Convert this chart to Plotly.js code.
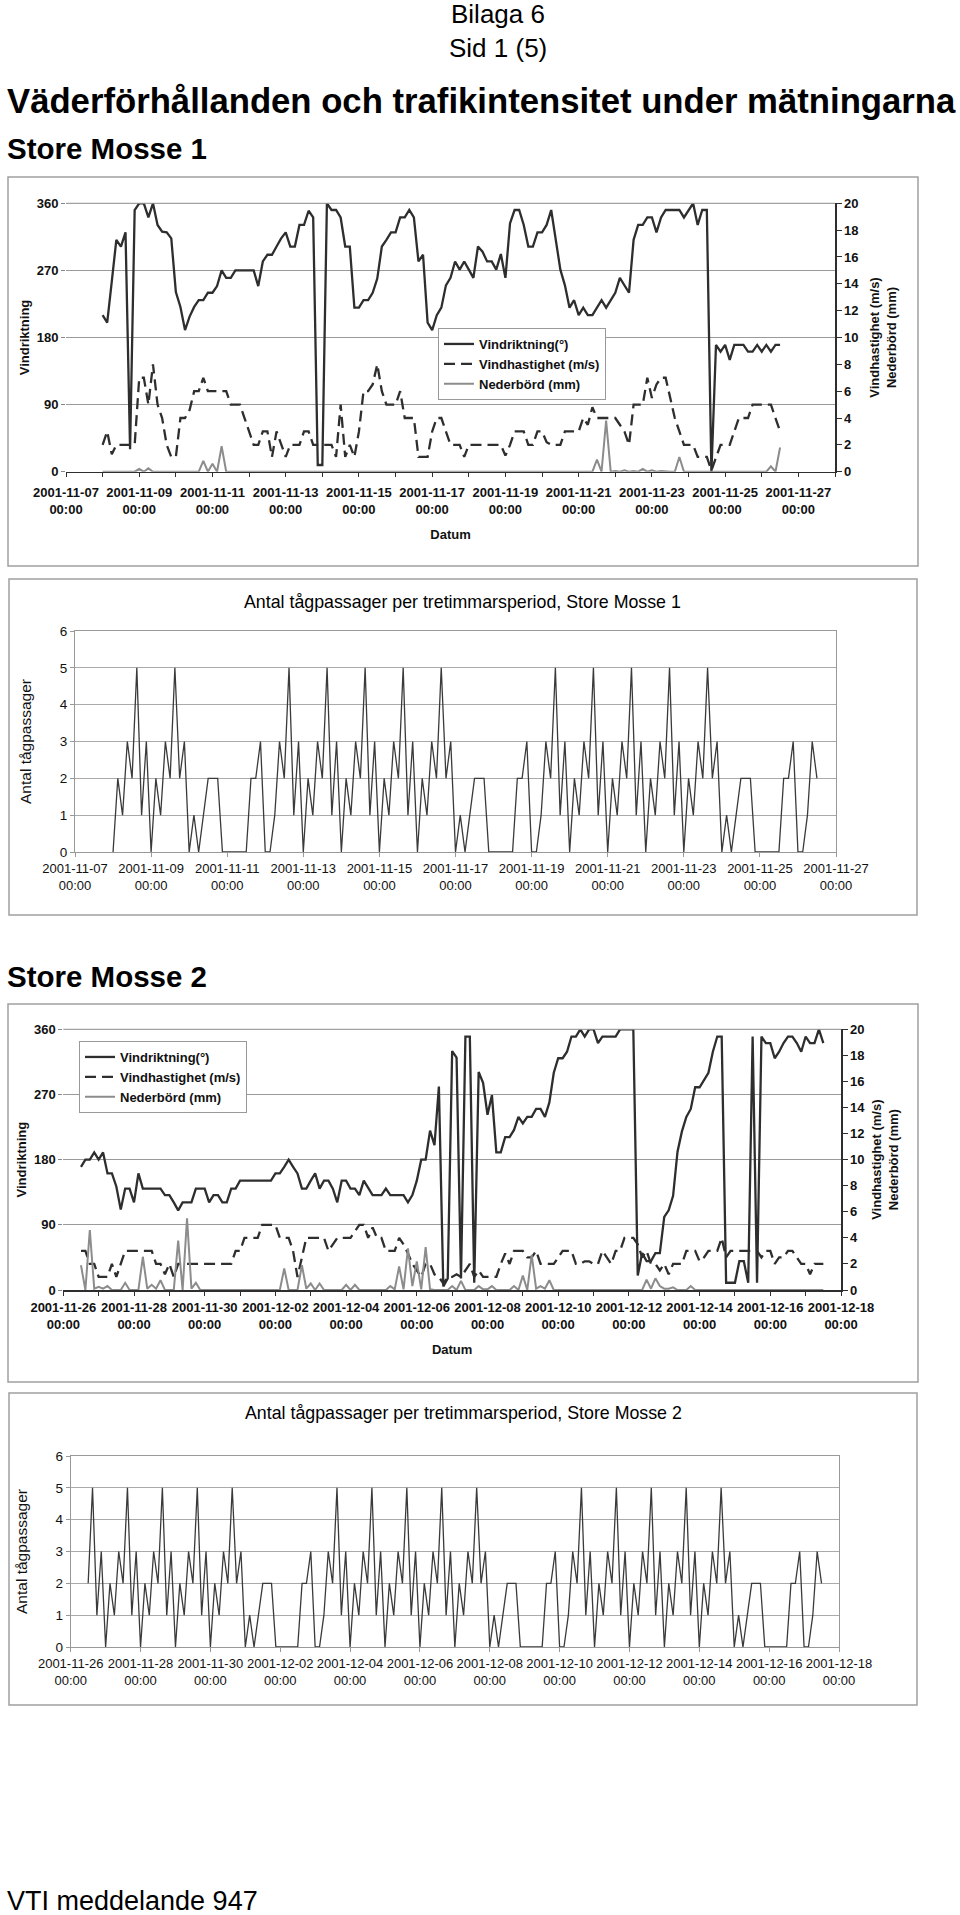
<!DOCTYPE html>
<html><head><meta charset="utf-8">
<script src="https://cdn.plot.ly/plotly-3.0.1.min.js"></script>
<style>html,body{margin:0;padding:0;background:#fff}#chart{width:960px;height:1915px}</style>
</head><body><div id="chart"></div>
<script>
// ---------------- DATA ----------------
// Store Mosse 1, 3-hourly from 2001-11-08 00:00
const start1 = '2001-11-08T00:00';
const vindriktning1 = [
210,200,255,311,302,321,30,351,360,360,
341,360,331,322,321,313,241,221,190,208,
221,230,230,240,240,249,270,260,260,270,
270,270,270,270,249,282,291,291,302,313,
321,302,302,331,331,350,341,9,9,360,
351,351,341,302,302,220,220,230,230,240,
259,302,311,321,321,341,341,351,341,282,
291,200,190,210,220,250,260,282,271,282,
271,260,302,295,282,282,271,292,260,333,
351,351,331,302,302,321,321,331,351,311,
271,250,220,230,210,220,210,210,220,230,
220,230,240,260,250,240,311,331,331,341,
341,321,341,351,351,351,351,341,351,360,
331,351,351,0,170,161,170,150,170,170,
170,161,161,170,161,170,161,170,170];
const vindhastighet1 = [
2,3,1.3,2,2,2,2,2,7,7,
5,8,5,4,2,1.1,1.1,4,4,4.6,
6,6,7,6,6,6,6,6,5,5,
5,4,3,2,2,3,3,1.1,3,2,
1.1,2,2,2,3,3,2,2,2,2,
2,1.1,5,1.1,2,1.1,3,6,6,6.5,
8,6,5,5,5,6,4,4,4,1.1,
1.1,1.1,3,4,4,3,2,2,2,1.1,
2,2,2,2,2,2,2,2,1.2,2,
3,3,3,2,2,3,3,2.2,2,2,
2,3,3,3,3,4,3.5,4.8,4,4,
4,4,4,3.5,3,2,5,5,5,7,
5.5,6.5,7,7,5.5,4,3,2,2,2,
1.1,1.1,1.1,0.1,1,2,2,2,3,4,
4,4,5,5,5,5,5,4,3];
const nederbord1 = [
0,0,0,0,0,0,0,0,0.2,0,
0.25,0,0,0,0,0,0,0,0,0,
0,0,0.8,0,0.6,0,1.9,0,0,0,
0,0,0,0,0,0,0,0,0,0,
0,0,0,0,0,0,0,0,0,0,
0,0,0,0,0,0,0,0,0,0,
0,0,0,0,0,0,0,0,0,0,
0,0,0,0,0,0,0,0,0,0,
0,0,0,0,0,0,0,0,0,0,
0,0,0,0,0,0,0,0,0,0,
0,0,0,0,0,0,0.05,0,0.9,0,
3.8,0,0.05,0,0.1,0,0.05,0,0.2,0,
0.1,0,0.05,0,0,0,1.1,0,0,0,
0,0,0,0,0,0,0,0,0,0,
0,0,0,0,0,0,0.4,0,1.8];
// Train passages per 3-hour period, Store Mosse 1 (from 2001-11-08 00:00)
const tag1 = [
0,2,1,3,2,5,1,3,  0,2,1,3,2,5,2,3,  0,1,0,1,2,2,2,0,  0,0,0,0,0,2,2,3,
0,0,1,3,2,5,1,3,  0,2,1,3,2,5,1,3,  0,2,1,3,2,5,1,3,  0,2,1,3,2,5,1,3,
0,2,1,3,2,5,2,3,  0,1,0,1,2,2,2,0,  0,0,0,0,0,2,2,3,  0,0,1,3,2,5,1,3,
0,2,1,3,2,5,1,3,  0,2,1,3,2,5,1,3,  0,2,1,3,2,5,1,3,  0,2,1,3,2,5,2,3,
0,1,0,1,2,2,2,0,  0,0,0,0,0,2,2,3,  0,0,1,3,2];

// Store Mosse 2, 3-hourly from 2001-11-26 12:00
const start2 = '2001-11-26T12:00';
const vindriktning2 = [
170,180,180,190,180,190,161,161,143,111,
140,140,121,161,140,140,140,140,140,131,
131,121,110,121,121,121,140,140,140,121,
131,131,121,121,140,140,151,151,151,151,
151,151,151,151,161,161,170,180,170,161,
140,140,151,161,140,151,151,140,121,151,
151,140,140,131,151,140,131,131,131,140,
131,131,131,131,121,131,151,180,180,220,
200,281,5,16,330,321,16,350,350,10,
301,286,242,269,190,190,211,211,221,239,
230,239,239,250,250,239,259,300,320,320,
329,350,350,360,350,360,360,341,350,350,
350,350,360,360,360,360,20,51,40,40,
51,51,101,110,130,191,219,239,250,280,
280,291,300,329,350,350,10,10,10,40,
40,10,350,10,350,341,341,320,329,341,
350,350,341,329,350,341,341,360,341];
const vindhastighet2 = [
3,3,2,2,1,1,1,2,1,2,
3,3,3,3,3,3,3,2,2,1.2,
2,1,2,2,2,2,2,2,2,2,
2,2,2,2,2,3,3,4,4,4,
4,5,5,5,5,4,4,4,3,1,
2.5,4,4,4,4,4,3,3.5,4,4,
4,4,4.5,5,5,4,4.8,4,4,3,
3,3,4,3.5,2.8,2,1.5,1,2,2,
1.2,1,0.5,1,1,1.2,1,1.5,2,1,
1.5,1,1,1,1,2,2.8,2,3,3,
3,2.5,2.5,3,2,2,2,2,2.5,3,
3,3,2,2,2.2,2.2,2,2,3,2.5,
2,3,3,4,4,4,3.5,2.5,3,2,
2,1.5,2,1.2,2,2,2,3,3,3,
2.2,2.5,3,3,3,4,2.5,3,3,3,
3,3,3,3,2.5,3,3,2,2.5,2.5,
3,3,2.5,2,2,1.2,2,2,2];
const nederbord2 = [
1.9,0,4.6,0.1,0.25,0.1,0.3,0,0,0,
0.55,0,0,0,2.55,0.1,0.4,0.1,0.75,0,
0,0,3.8,0,5.5,0.1,0.55,0,0,0,
0,0,0,0,0,0,0,0,0,0,
0,0,0,0,0,0,1.65,0,0,0,
1.9,0.1,0.5,0,0.5,0,0,0,0.05,0,
0.4,0,0.4,0,0,0,0,0,0,0,
0.3,0.05,1.8,0.05,3.2,0.3,2.2,0.05,3.3,0.05,
0,0,0,0,0.3,0,0.7,0,0,0,
0.3,0.05,0.05,0.3,0,0,0,0,0.3,0,
1.1,0,2.7,0.1,0.3,0.1,0.75,0,0,0,
0,0,0,0,0,0,0,0,0,0,
0,0,0,0,0,0,0,0,0.8,0.1,
0.9,0.3,0.1,0.1,0.2,0,0,0,0.3,0,
0,0,0,0,0,0,0,0,0,0,
0,0,0,0,0,0,0,0,0,0,
0,0,0,0,0,0,0,0,0];
// Train passages per 3-hour period, Store Mosse 2 (from 2001-11-26 12:00)
const tag2 = [
2,5,1,3,
0,2,1,3,2,5,1,3,  0,2,1,3,2,5,1,3,  0,2,1,3,2,5,1,3,  0,2,1,3,2,5,2,3,
0,1,0,1,2,2,2,0,  0,0,0,0,0,2,2,3,  0,0,1,3,2,5,1,3,  0,2,1,3,2,5,1,3,
0,2,1,3,2,5,1,3,  0,2,1,3,2,5,1,3,  0,2,1,3,2,5,2,3,  0,1,0,1,2,2,2,0,
0,0,0,0,0,2,2,3,  0,0,1,3,2,5,1,3,  0,2,1,3,2,5,1,3,  0,2,1,3,2,5,1,3,
0,2,1,3,2,5,1,3,  0,2,1,3,2,5,2,3,  0,1,0,1,2,2,2,0,  0,0,0,0,0,2,2,3,
0,0,1,3,2];

// tick labels
const datum1 = ['2001-11-07','2001-11-09','2001-11-11','2001-11-13','2001-11-15','2001-11-17','2001-11-19','2001-11-21','2001-11-23','2001-11-25','2001-11-27'];
const datum2 = ['2001-11-26','2001-11-28','2001-11-30','2001-12-02','2001-12-04','2001-12-06','2001-12-08','2001-12-10','2001-12-12','2001-12-14','2001-12-16','2001-12-18'];
const riktTicks = [0,90,180,270,360];

// ---------------- HELPERS ----------------
function times(startIso, n){
  const t0 = Date.parse(startIso + ':00Z'); const out = [];
  for(let i=0;i<n;i++){ out.push(new Date(t0 + i*3*3600e3).toISOString().slice(0,16).replace('T',' ')); }
  return out;
}
const t1 = times(start1, vindriktning1.length), tt1 = times(start1, tag1.length);
const t2 = times(start2, vindriktning2.length), tt2 = times(start2, tag2.length);
const lab = d => d.map(s => s + '<br>00:00');

const W=960, H=1915;
const fx = p => p/W, fy = p => 1 - p/H;
const FONT = 'Liberation Sans, Arial, Helvetica, sans-serif';
const DARK = '#2e2e2e';
const B13 = {family:FONT, size:13, weight:'bold', color:'#111'};
const R13 = {family:FONT, size:13, color:'#111'};

// ---------------- TRACES ----------------
const traces = [
 {x:t1, y:vindriktning1, xaxis:'x', yaxis:'y', mode:'lines', name:'Vindriktning(°)', legend:'legend', legendgroup:'a', line:{color:DARK, width:2.3}},
 {x:t1, y:vindhastighet1, xaxis:'x', yaxis:'y2', mode:'lines', name:'Vindhastighet (m/s)', legend:'legend', legendgroup:'b', line:{color:DARK, width:2.3, dash:'11px,6px'}},
 {x:t1, y:nederbord1, xaxis:'x', yaxis:'y2', mode:'lines', name:'Nederbörd (mm)', legend:'legend', legendgroup:'c', line:{color:'#8c8c8c', width:2}},
 {x:tt1, y:tag1, xaxis:'x2', yaxis:'y3', mode:'lines', showlegend:false, line:{color:'#3a3a3a', width:1.3}},
 {x:t2, y:vindriktning2, xaxis:'x3', yaxis:'y4', mode:'lines', name:'Vindriktning(°)', legend:'legend2', legendgroup:'a2', line:{color:DARK, width:2.3}},
 {x:t2, y:vindhastighet2, xaxis:'x3', yaxis:'y5', mode:'lines', name:'Vindhastighet (m/s)', legend:'legend2', legendgroup:'b2', line:{color:DARK, width:2.3, dash:'11px,6px'}},
 {x:t2, y:nederbord2, xaxis:'x3', yaxis:'y5', mode:'lines', name:'Nederbörd (mm)', legend:'legend2', legendgroup:'c2', line:{color:'#8c8c8c', width:2}},
 {x:tt2, y:tag2, xaxis:'x4', yaxis:'y6', mode:'lines', showlegend:false, line:{color:'#3a3a3a', width:1.3}}
];

// ---------------- AXES ----------------
function weatherX(dom, anchor, range, ticks, minor0, lblOff, titleOff){
  return {domain:dom, anchor:anchor, type:'date', range:range, tickmode:'array', tickvals:ticks, ticktext:lab(ticks),
    ticks:'outside', ticklen:4, tickcolor:DARK, showline:true, linecolor:DARK, linewidth:1.5, showgrid:false, zeroline:false,
    tickfont:B13, ticklabelstandoff:lblOff, minor:{tick0:minor0, dtick:86400000, ticks:'outside', ticklen:4, tickcolor:DARK, showgrid:false},
    title:{text:'Datum', font:B13, standoff:titleOff}, fixedrange:true};
}
function weatherYL(dom, anchor){
  return {domain:dom, anchor:anchor, range:[0,360], tickmode:'array', tickvals:riktTicks, ticks:'outside', ticklen:4, tickcolor:'#888',
    showgrid:true, gridcolor:'#9a9a9a', gridwidth:1, zeroline:false, showline:false, tickfont:B13,
    title:{text:'Vindriktning', font:B13, standoff:4}, fixedrange:true};
}
function weatherYR(over, anchor, off){
  return {overlaying:over, anchor:anchor, side:'right', range:[0,20], tick0:0, dtick:2, ticks:'outside', ticklen:5, tickcolor:DARK,
    showline:true, linecolor:DARK, linewidth:1.5, showgrid:false, zeroline:false, tickfont:B13,
    title:{text:'Vindhastighet (m/s)<br>Nederbörd (mm)', font:B13, standoff:off}, fixedrange:true};
}
function trainX(dom, anchor, range, ticks){
  return {domain:dom, anchor:anchor, type:'date', range:range, tickmode:'array', tickvals:ticks, ticktext:lab(ticks),
    ticks:'outside', ticklen:4, tickcolor:'#999', showline:true, mirror:true, linecolor:'#999', linewidth:1, showgrid:false,
    zeroline:false, tickfont:R13, fixedrange:true};
}
function trainY(dom, anchor){
  return {domain:dom, anchor:anchor, range:[0,6], tick0:0, dtick:1, ticks:'outside', ticklen:4, tickcolor:'#999',
    showline:true, mirror:true, linecolor:'#999', linewidth:1, showgrid:true, gridcolor:'#aaa', gridwidth:1, zeroline:false,
    tickfont:{family:FONT, size:13.5, color:'#111'},
    title:{text:'Antal tågpassager', font:{family:FONT, size:15.5, color:'#111'}, standoff:24}, fixedrange:true};
}

const legendStyle = (x,y) => ({x:fx(x), y:fy(y), xanchor:'left', yanchor:'top', bgcolor:'#fff', bordercolor:'#999', borderwidth:1,
  font:{family:FONT, size:13, weight:'bold', color:'#111'}, tracegroupgap:0});

const boxes = [[8,177,918,566],[9,579,917,915],[8,1004,918,1382],[9,1393,917,1705]];
const shapes = boxes.map(b => ({type:'rect', xref:'paper', yref:'paper', x0:fx(b[0]), x1:fx(b[2]), y0:fy(b[3]), y1:fy(b[1]),
  line:{color:'#a0a0a0', width:1.5}, fillcolor:'rgba(0,0,0,0)', layer:'below'}));
shapes.push({type:'line', xref:'x domain', yref:'y domain', x0:0, x1:1, y0:1, y1:1, line:{color:'#8a8a8a', width:1}});
shapes.push({type:'line', xref:'x3 domain', yref:'y4 domain', x0:0, x1:1, y0:1, y1:1, line:{color:'#8a8a8a', width:1}});

function ann(text, x, y, size, opts){
  return Object.assign({text:text, xref:'paper', yref:'paper', x:fx(x), y:fy(y), xanchor:'left', yanchor:'middle', showarrow:false,
    font:{family:FONT, size:size, color:'#000'}}, opts||{});
}
const annotations = [
  ann('Bilaga 6', 498, 14, 26, {xanchor:'center'}),
  ann('Sid 1 (5)', 498, 48, 26, {xanchor:'center'}),
  ann('<b>Väderförhållanden och trafikintensitet under mätningarna</b>', 5, 101, 34.7),
  ann('<b>Store Mosse 1</b>', 5, 148, 29.5),
  ann('Antal tågpassager per tretimmarsperiod, Store Mosse 1', 462, 602, 17.8, {xanchor:'center'}),
  ann('<b>Store Mosse 2</b>', 5, 976, 29.5),
  ann('Antal tågpassager per tretimmarsperiod, Store Mosse 2', 463, 1413, 17.8, {xanchor:'center'}),
  ann('VTI meddelande 947', 5, 1901, 27)
];

const layout = {
  width:W, height:H, margin:{l:0,r:0,t:0,b:0}, paper_bgcolor:'#fff', plot_bgcolor:'rgba(0,0,0,0)',
  font:{family:FONT, color:'#111'}, showlegend:true,
  xaxis: weatherX([fx(66),fx(835)], 'y', ['2001-11-07','2001-11-28'], datum1, '2001-11-07', 4, 14),
  yaxis: weatherYL([fy(471.7),fy(203.3)], 'x'),
  yaxis2: weatherYR('y','x', 11),
  xaxis2: trainX([fx(75),fx(836)], 'y3', ['2001-11-07','2001-11-27'], datum1),
  yaxis3: trainY([fy(852),fy(631)], 'x2'),
  xaxis3: weatherX([fx(63.3),fx(841)], 'y4', ['2001-11-26','2001-12-18'], datum2, '2001-11-26', 1, 14),
  yaxis4: weatherYL([fy(1290),fy(1029.3)], 'x3'),
  yaxis5: weatherYR('y4','x3', 7),
  xaxis4: trainX([fx(70.7),fx(839)], 'y6', ['2001-11-26','2001-12-18'], datum2),
  yaxis6: trainY([fy(1647),fy(1456)], 'x4'),
  legend: legendStyle(438, 328),
  legend2: legendStyle(79, 1041),
  shapes: shapes,
  annotations: annotations
};

Plotly.newPlot('chart', traces, layout, {displayModeBar:false, staticPlot:true});
</script></body></html>
